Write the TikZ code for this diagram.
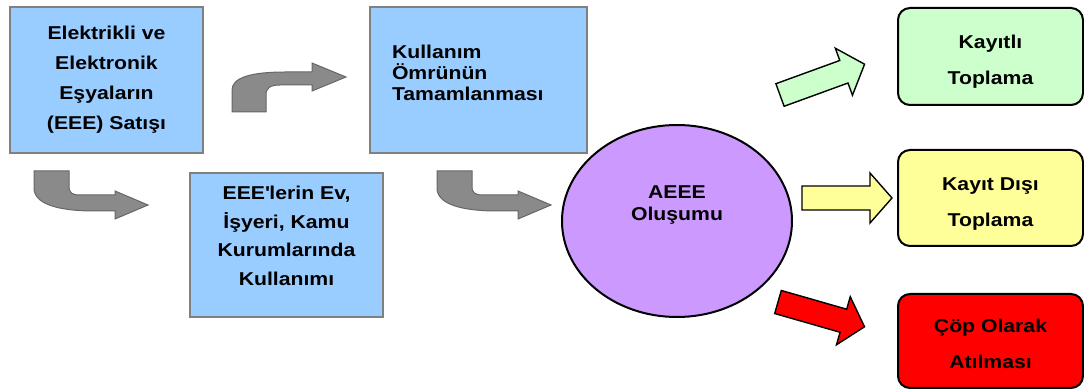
\documentclass[tikz,border=0pt]{standalone}
\usepackage{fontspec}
\setmainfont{Liberation Sans}[FakeStretch=1.14]
\usetikzlibrary{shapes.geometric}

\definecolor{boxblue}{HTML}{99CCFF}
\definecolor{ovallilac}{HTML}{CC99FF}
\definecolor{regreen}{HTML}{CCFFCC}
\definecolor{offyellow}{HTML}{FFFF99}
\definecolor{wastered}{HTML}{FF0000}
\definecolor{bendgray}{HTML}{8A8A8A}

% straight block arrow: fill, tail x, tail y, angle
\newcommand{\blockarrow}[4]{%
  \draw[line width=0.7pt, fill=#1, shift={(#2,#3)}, rotate=#4]
  (0,-12) -- (68,-12) -- (68,-25) -- (90,0) -- (68,25) -- (68,12) -- (0,12) -- cycle;}

\begin{document}
\begin{tikzpicture}[x=0.5pt, y=-0.5pt,
  bluebox/.style={draw=black!50, line width=0.8pt, fill=boxblue, inner sep=0pt, align=center},
  endbox/.style={draw=black, line width=1pt, rounded corners=6pt, minimum width=92.5pt, inner sep=0pt, align=center, font=\fontsize{9.3}{18}\selectfont\bfseries},
  bendarrow/.style={draw=black!60, line width=0.5pt, fill=bendgray}]
\useasboundingbox (0,0) rectangle (1084,390);

% life cycle boxes
\node[bluebox, minimum width=96.5pt, minimum height=73pt, font=\fontsize{9.3}{15}\selectfont\bfseries] (sale) at (106.5,80) {Elektrikli ve\\Elektronik\\Eşyaların\\(EEE) Satışı};
\node[bluebox, minimum width=96.5pt, minimum height=72pt, font=\fontsize{9.3}{14.25}\selectfont\bfseries] (usage) at (286.5,245) {EEE\textquotesingle lerin Ev,\\İşyeri, Kamu\\Kurumlarında\\Kullanımı\rule[-9pt]{0pt}{9pt}};
\node[bluebox, minimum width=108.5pt, minimum height=73pt, text width=86.5pt, align=left, font=\fontsize{9.3}{10.5}\selectfont\bfseries] (endlife) at (478.5,80) {Kullanım\\Ömrünün\\Tamamlanması\rule[-7pt]{0pt}{7pt}};

\node[ellipse, draw=black, line width=1pt, fill=ovallilac, minimum width=115pt, minimum height=96pt, inner sep=0pt] (aeee) at (677,221) {};
\node[align=center, font=\fontsize{9.3}{11}\selectfont\bfseries] (aeeetext) at (677,205) {AEEE\\Oluşumu};

% where it goes
\node[endbox, fill=regreen, minimum height=48.5pt] (registered) at (990.5,56.5) {\rule{0pt}{12pt}Kayıtlı\\Toplama};
\node[endbox, fill=offyellow, minimum height=48pt] (unregistered) at (990.5,198) {\rule{0pt}{12pt}Kayıt Dışı\\Toplama};
\node[endbox, fill=wastered, minimum height=47pt] (dump) at (990.5,341) {\rule{0pt}{10pt}Çöp Olarak\\Atılması};

% bent arrows
\draw[bendarrow] (232,112) -- (232,90) .. controls (232,78) and (250,72) .. (285,72) -- (312,72) -- (312,63) -- (346,77) -- (312,91) -- (312,85) -- (280,85) .. controls (270,85) and (266,88) .. (266,95) -- (266,112) -- cycle;
\foreach \dx in {0,403}
  \draw[bendarrow, shift={(\dx,0)}] (34,171) -- (69,171) -- (69,186) .. controls (69,193) and (72,195) .. (80,195) -- (115,195) -- (115,191) -- (148,205) -- (115,219) -- (115,211) -- (95,211) .. controls (55,211) and (34,203) .. (34,188) -- cycle;

% straight arrows
\blockarrow{regreen}{780}{95}{20}
\blockarrow{offyellow}{802}{198}{0}
\blockarrow{wastered}{778}{302}{-16}
\end{tikzpicture}
\end{document}
